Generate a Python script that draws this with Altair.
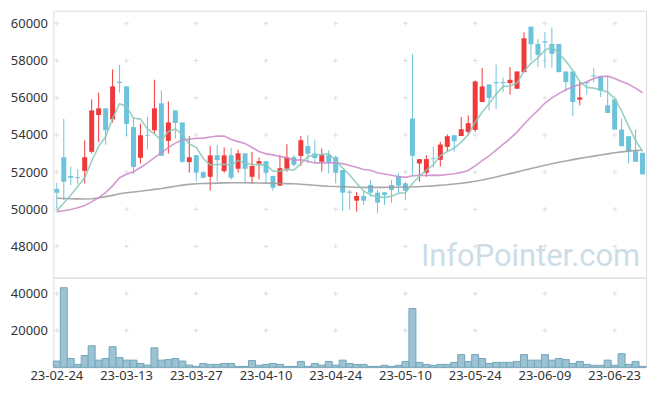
import altair as alt
import pandas as pd

dates = ["23-02-24","23-02-27","23-02-28","23-03-02","23-03-03","23-03-06","23-03-07","23-03-08","23-03-09","23-03-10",
         "23-03-13","23-03-14","23-03-15","23-03-16","23-03-17","23-03-20","23-03-21","23-03-22","23-03-23","23-03-24",
         "23-03-27","23-03-28","23-03-29","23-03-30","23-03-31","23-04-03","23-04-04","23-04-05","23-04-06","23-04-07",
         "23-04-10","23-04-11","23-04-12","23-04-13","23-04-14","23-04-17","23-04-18","23-04-19","23-04-20","23-04-21",
         "23-04-24","23-04-25","23-04-26","23-04-27","23-04-28","23-05-02","23-05-03","23-05-04","23-05-08","23-05-09",
         "23-05-10","23-05-11","23-05-12","23-05-15","23-05-16","23-05-17","23-05-18","23-05-19","23-05-22","23-05-23",
         "23-05-24","23-05-25","23-05-26","23-05-30","23-05-31","23-06-01","23-06-02","23-06-05","23-06-07","23-06-08",
         "23-06-09","23-06-12","23-06-13","23-06-14","23-06-15","23-06-16","23-06-19","23-06-20","23-06-21","23-06-22",
         "23-06-23","23-06-26","23-06-27","23-06-28","23-06-29"]

opens = [51090, 52800, 51790, 51730, 52070, 53090, 55070, 55430, 54840, 56860,
         56610, 54420, 52770, 54000, 54250, 55700, 53680, 55320, 54670, 52540,
         52910, 52000, 51750, 52910, 52055, 52910, 52180, 53010, 51750, 52450,
         52590, 51790, 51270, 52180, 52800, 52870, 53400, 53000, 52555, 52912,
         52805, 52110, 50948, 50466, 50716, 51305, 50895, 50912, 51305, 51752,
         51395, 54877, 52466, 51966, 52740, 52660, 53359, 53984, 53940, 54162,
         54270, 55770, 56716, 56840, 56840, 56787, 56484, 57376, 59823, 58894,
         59037, 58894, 58894, 57412, 57412, 55894, 56841, 57200, 57162, 55591,
         55912, 54287, 53930, 53126, 53037]
highs = [51420, 54870, 52290, 52160, 53710, 55910, 56270, 55430, 57520, 57770,
         56610, 54930, 54610, 54960, 56970, 56400, 55800, 55320, 54670, 53930,
         52910, 52050, 53400, 53450, 53330, 53300, 53200, 53010, 53090, 52790,
         52590, 51790, 52910, 53500, 52910, 53940, 53980, 53716, 53270, 53180,
         52912, 52110, 51038, 50920, 51037, 51573, 51037, 50912, 51573, 51930,
         51484, 58359, 52698, 52912, 53359, 53627, 54030, 53984, 54966, 55055,
         56930, 57600, 56716, 57780, 57075, 57644, 57412, 59519, 59823, 59162,
         59519, 59787, 58894, 57412, 57412, 56841, 56841, 57608, 57162, 57162,
         55912, 54876, 53930, 54287, 53037]
lows = [50060, 50500, 51300, 51340, 51390, 53000, 53620, 53480, 54660, 56270,
        53950, 51900, 52460, 53220, 54080, 52880, 53000, 53810, 52500, 51980,
        51500, 51650, 51010, 51500, 51960, 51600, 51970, 51400, 51400, 51610,
        51400, 51000, 51270, 52020, 52300, 52330, 52466, 52466, 52030, 51930,
        51395, 49930, 49980, 49877, 50234, 50680, 49787, 50234, 50359, 50860,
        50502, 51752, 51484, 51752, 52250, 52300, 53091, 53091, 53940, 53984,
        54160, 55770, 55323, 55400, 56300, 56162, 56484, 57376, 58001, 57644,
        57608, 57608, 57376, 56341, 55001, 55590, 56180, 56841, 56037, 55180,
        54287, 53394, 52466, 52555, 51876]
closes = [50890, 51480, 51700, 51680, 52800, 55320, 55430, 54250, 56610, 56790,
          54590, 52280, 53980, 53960, 55430, 52880, 54670, 54640, 52550, 52800,
          51980, 51700, 52900, 52645, 52900, 51700, 53010, 52180, 52330, 52590,
          51970, 51160, 52210, 52800, 52395, 53716, 52990, 52760, 52912, 52550,
          51966, 50894, 50894, 50716, 50466, 50895, 50359, 50770, 51037, 51270,
          51002, 52877, 52698, 52698, 52698, 53484, 53930, 53662, 54305, 54630,
          56876, 56608, 55990, 56780, 56780, 56965, 57412, 59198, 58876, 58305,
          58965, 58358, 57376, 56841, 55769, 56019, 56787, 57150, 56376, 55180,
          54287, 53394, 53126, 52555, 51876]
volumes = [3400, 43200, 4800, 1600, 6400, 11700, 3900, 4800, 11200, 5300,
           3900, 3900, 2100, 1200, 10600, 3900, 4200, 4800, 3400, 1200,
           500, 2100, 1600, 1600, 2100, 2100, 500, 500, 3700, 1100,
           1600, 2100, 1600, 500, 500, 3200, 500, 2100, 1200, 3200,
           1200, 3900, 2100, 1600, 1600, 500, 500, 1100, 500, 1100,
           3200, 31900, 2700, 1600, 1100, 1600, 1600, 2700, 6900, 3200,
           6900, 4800, 2100, 2700, 2700, 2700, 3200, 6900, 3900, 3900,
           6900, 3900, 4800, 4200, 2100, 3200, 1600, 1100, 1100, 3900,
           1100, 7400, 1600, 3200, 500]
ma5 = [49930, 50340, 50770, 51220, 51711, 52597, 53386, 53897, 54883, 55679,
       55533, 54904, 54851, 54321, 54053, 53710, 54189, 54321, 54036, 53511,
       53329, 52733, 52386, 52408, 52422, 52369, 52633, 52487, 52423, 52362,
       52416, 52045, 52052, 52148, 52109, 52459, 52827, 52934, 52955, 52986,
       52636, 52215, 51843, 51404, 50987, 50773, 50666, 50641, 50705, 50866,
       50888, 51391, 51777, 52109, 52395, 52891, 53102, 53294, 53616, 54005,
       54684, 55219, 55684, 56181, 56610, 56627, 56788, 57431, 57848, 58151,
       58551, 58740, 58376, 57969, 57462, 56873, 56558, 56516, 56423, 56305,
       55958, 55280, 54473, 53708, 53120]
ma20 = [49877, 49920, 49990, 50080, 50200, 50400, 50630, 50900, 51260, 51700,
        51880, 52020, 52250, 52500, 52780, 53050, 53320, 53560, 53720, 53770,
        53817, 53828, 53889, 53937, 53941, 53760, 53640, 53537, 53323, 53113,
        52982, 52926, 52838, 52780, 52627, 52669, 52585, 52490, 52509, 52495,
        52495, 52455, 52354, 52258, 52137, 52097, 51964, 51894, 51830, 51764,
        51716, 51802, 51826, 51821, 51836, 51824, 51870, 51915, 51985, 52090,
        52335, 52621, 52876, 53180, 53496, 53800, 54153, 54574, 54966, 55318,
        55716, 55990, 56224, 56431, 56585, 56712, 56855, 57030, 57134, 57161,
        57032, 56871, 56728, 56516, 56270]
ma60 = [50591, 50580, 50570, 50560, 50555, 50570, 50610, 50680, 50750, 50840,
        50890, 50930, 50970, 51020, 51073, 51120, 51180, 51240, 51300, 51341,
        51370, 51385, 51395, 51410, 51420, 51430, 51430, 51425, 51420, 51415,
        51410, 51400, 51390, 51380, 51370, 51350, 51320, 51290, 51260, 51240,
        51230, 51215, 51200, 51190, 51180, 51180, 51180, 51180, 51185, 51190,
        51200, 51210, 51220, 51240, 51260, 51290, 51320, 51360, 51400, 51450,
        51510, 51580, 51660, 51740, 51830, 51920, 52010, 52100, 52190, 52280,
        52370, 52450, 52530, 52600, 52670, 52740, 52800, 52860, 52920, 52980,
        53040, 53090, 53130, 53160, 53180]

tick_dates = ["23-02-24", "23-03-13", "23-03-27", "23-04-10", "23-04-24",
              "23-05-10", "23-05-24", "23-06-09", "23-06-23"]
price_ticks = [48000, 50000, 52000, 54000, 56000, 58000, 60000]
volume_ticks = [20000, 40000]
watermark = "InfoPointer.com"

UP = "#ef3a3c"
DOWN = "#6dc3db"
FONT = "Noto Sans"

df = pd.DataFrame(dict(date=dates, open=opens, high=highs, low=lows, close=closes,
                       volume=volumes, ma5=ma5, ma20=ma20, ma60=ma60))
df["dir"] = ["up" if c >= o else "down" for o, c in zip(opens, closes)]

price_grid = pd.DataFrame([(d, p) for d in tick_dates for p in price_ticks], columns=["date", "v"])
vol_grid = pd.DataFrame([(d, v) for d in tick_dates for v in volume_ticks], columns=["date", "v"])

W = 595
xs = alt.Scale(type="band", domain=dates, paddingInner=0, paddingOuter=0)
ys = alt.Scale(domain=[46322, 60680], nice=False, zero=False)
vs = alt.Scale(domain=[0, 48650], nice=False, zero=False)
y_axis = alt.Axis(values=price_ticks, ticks=False, domain=False, grid=False, title=None,
                  labelPadding=6, labelFontSize=13, labelColor="#333333", labelFont=FONT, format="d")
v_axis = alt.Axis(values=volume_ticks, ticks=False, domain=False, grid=False, title=None,
                  labelPadding=6, labelFontSize=13, labelColor="#333333", labelFont=FONT, format="d")
x_axis = alt.Axis(values=tick_dates, ticks=False, domain=False, grid=False, title=None, labelAngle=0,
                  labelPadding=2, labelFontSize=13, labelColor="#333333", labelFont=FONT)
dir_color = alt.Color("dir:N", scale=alt.Scale(domain=["up", "down"], range=[UP, DOWN]), legend=None)
cross = "M-1,0L1,0M0,-1L0,1"

base = alt.Chart(df)
grid_p = alt.Chart(price_grid).mark_point(shape=cross, size=22, filled=False, color="#dedede",
                                          strokeWidth=1, opacity=1).encode(
    x=alt.X("date:N", scale=xs, axis=None), y=alt.Y("v:Q", scale=ys, axis=y_axis))
wicks = base.mark_rule(strokeWidth=1).encode(
    x=alt.X("date:N", scale=xs, axis=None), y=alt.Y("low:Q", scale=ys, axis=y_axis), y2="high:Q",
    color=dir_color)
bodies = base.mark_bar(size=5).encode(
    x=alt.X("date:N", scale=xs, axis=None), y=alt.Y("open:Q", scale=ys, axis=y_axis), y2="close:Q",
    color=dir_color)
def ma_line(field, col):
    return base.mark_line(strokeWidth=1.6, opacity=0.85, color=col).encode(
        x=alt.X("date:N", scale=xs, axis=None), y=alt.Y(f"{field}:Q", scale=ys, axis=y_axis))
wm = alt.Chart(pd.DataFrame({"t": [watermark]})).mark_text(
    align="left", baseline="alphabetic", fontSize=31, font="Roboto", color="#cddde7").encode(
    text="t:N", x=alt.value(369), y=alt.value(256))

price = alt.layer(grid_p, wm, wicks, bodies, ma_line("ma60", "#9a9a9a"), ma_line("ma20", "#cc88c8"),
                  ma_line("ma5", "#86c9b9")).properties(width=W, height=268)

grid_v = alt.Chart(vol_grid).mark_point(shape=cross, size=22, filled=False, color="#dedede",
                                        strokeWidth=1, opacity=1).encode(
    x=alt.X("date:N", scale=xs, axis=x_axis), y=alt.Y("v:Q", scale=vs, axis=v_axis))
vbars = base.mark_bar(fill="#9cc3d3", stroke="#74a5ba", strokeWidth=1).encode(
    x=alt.X("date:N", scale=xs, axis=x_axis), y=alt.Y("volume:Q", scale=vs, axis=v_axis))
vol = alt.layer(grid_v, vbars).properties(width=W, height=90)

chart = alt.vconcat(price, vol, spacing=0, bounds="flush").properties(
    padding={"left": 1.5, "top": 1, "right": 2, "bottom": 2}
).configure_view(stroke="#e2e2e2").configure(background="white")

chart.save("out.html", embed_options={"renderer": "svg", "actions": False})
